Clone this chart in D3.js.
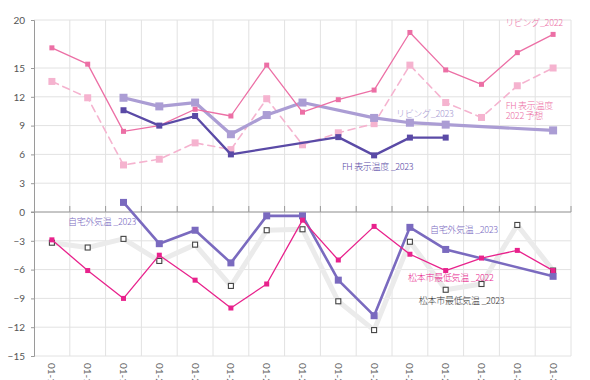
<!DOCTYPE html>
<html><head><meta charset="utf-8">
<script src="https://cdn.jsdelivr.net/npm/d3@7"></script>
<style>
html,body{margin:0;padding:0;background:#fff;}
svg{display:block;font-family:"Noto Sans CJK JP","Noto Sans",sans-serif;}
</style></head>
<body><svg id="c" width="590" height="380"></svg>
<script>
const categories = ["01-17","01-18","01-19","01-20","01-21","01-22","01-23","01-24","01-25","01-26","01-27","01-28","01-29","01-30","01-31"];
const yTicks = [-15,-12,-9,-6,-3,0,3,6,9,12,15,20];

const living2022   = [17.1,15.4,8.4,9.0,10.7,10.0,15.3,10.4,11.7,12.7,18.7,14.8,13.3,16.6,18.5];
const fh2022forecast = [13.6,11.9,4.9,5.5,7.2,6.5,11.8,7.0,8.25,9.2,15.3,11.4,9.85,13.15,15.0];
const living2023   = [null,null,11.9,11.0,11.4,8.1,10.1,11.4,null,9.8,9.3,9.1,null,null,8.5];
const fh2023       = [null,null,10.6,9.0,10.0,6.0,null,null,7.8,5.9,7.75,7.75,null,null,null];
const outdoor2023  = [null,null,1.0,-3.3,-1.9,-5.3,-0.4,-0.4,-7.1,-10.8,-1.6,-3.9,null,null,-6.7];
const matsumoto2022 = [-2.9,-6.1,-9.0,-4.5,-7.1,-10.0,-7.5,-0.85,-5.0,-1.5,-4.4,-6.1,-4.8,-4.0,-6.1];
const matsumoto2023 = [-3.2,-3.7,-2.8,-5.1,-3.4,-7.7,-1.9,-1.8,-9.3,-12.3,-3.1,-8.1,-7.5,-1.35,-6.1];

// label anchors in data terms: [category position (index units), value]
const labels = [
  {t:"リビング_2022", i:13.16, v:19.37, c:"#ec6fa5"},
  {t:"FH 表示温度", i:13.18, v:10.78, c:"#ec6fa5"},
  {t:"2022 予想", i:13.18, v:9.72, c:"#ec6fa5"},
  {t:"リビング_2023", i:10.11, v:9.89, c:"#a89ad2"},
  {t:"FH 表示温度 _2023", i:8.6, v:4.36, c:"#5a4aa6"},
  {t:"自宅外気温 _2023", i:0.95, v:-1.38, c:"#7a6abf"},
  {t:"自宅外気温 _2023", i:11.06, v:-2.21, c:"#7a6abf"},
  {t:"松本市最低気温 _2022", i:10.45, v:-7.22, c:"#e8228c"},
  {t:"松本市最低気温 _2023", i:10.75, v:-9.61, c:"#333333"}
];

const W=590,H=380, L=34, R=571, T=20, B=356;
const svg = d3.select("#c");
const x = d3.scaleBand().domain(categories).range([L,R]).paddingInner(0).paddingOuter(0);
const xi = d3.scaleLinear().domain([0,categories.length]).range([L,R]);
const y = d3.scaleLinear().domain([-15,20]).range([B,T]);
const cx = c => x(c)+x.bandwidth()/2;

// horizontal grid
svg.append("g").selectAll("line").data(yTicks).join("line")
  .attr("x1",L).attr("x2",R).attr("y1",d=>y(d)).attr("y2",d=>y(d))
  .attr("stroke","#e2e2e2").attr("stroke-width",1);
// vertical grid at band edges
const edges = categories.map(c=>x(c)+x.bandwidth());
svg.append("g").selectAll("line").data(edges).join("line")
  .attr("x1",d=>d).attr("x2",d=>d).attr("y1",T).attr("y2",B)
  .attr("stroke","#e2e2e2").attr("stroke-width",1);

// left axis
const ya = svg.append("g").attr("transform",`translate(${L},0)`)
  .call(d3.axisLeft(y).tickValues(yTicks).tickSize(3).tickPadding(6).tickFormat(d3.format("d")));
ya.select(".domain").attr("stroke","#9a9a9a");
ya.selectAll(".tick line").attr("stroke","#9a9a9a");
ya.selectAll("text").attr("fill","#555").attr("font-size",10).attr("font-family","Lato, 'Noto Sans', sans-serif");

// zero axis with upward ticks
const za = svg.append("g").attr("transform",`translate(0,${y(0)})`);
za.append("line").attr("x1",L-3).attr("x2",R).attr("y1",0).attr("y2",0).attr("stroke","#9a9a9a");
za.selectAll("line.tk").data(edges).join("line").attr("class","tk")
  .attr("x1",d=>d).attr("x2",d=>d).attr("y1",0).attr("y2",-6).attr("stroke","#9a9a9a");

// x labels
svg.append("g").selectAll("text").data(categories).join("text")
  .attr("transform",d=>`translate(${cx(d)},${B+7}) rotate(90)`)
  .attr("dy","0.35em").attr("text-anchor","start")
  .attr("font-size",10).attr("fill","#666").attr("font-family","Lato, 'Noto Sans', sans-serif")
  .text(d=>d);

function series(vals, o){
  const pts = categories.map((c,i)=>({c, v:vals[i]})).filter(d=>d.v!==null);
  const line = d3.line().x(d=>cx(d.c)).y(d=>y(d.v));
  const g = svg.append("g");
  g.append("path").datum(pts).attr("d",line).attr("fill","none")
    .attr("stroke",o.stroke).attr("stroke-width",o.w)
    .attr("stroke-dasharray",o.dash||null).attr("stroke-linejoin","round").attr("stroke-linecap","round");
  const s=o.ms;
  g.selectAll("rect").data(pts).join("rect")
    .attr("x",d=>cx(d.c)-s/2).attr("y",d=>y(d.v)-s/2).attr("width",s).attr("height",s)
    .attr("fill",o.mfill||o.stroke).attr("stroke",o.mstroke||"none").attr("stroke-width",o.msw||0);
}

series(matsumoto2023,{stroke:"#ebebeb",w:5,ms:5,mfill:"#fff",mstroke:"#444",msw:1.1});
series(fh2022forecast,{stroke:"#f5b3cf",w:1.6,dash:"7,5",ms:7});
series(living2023,{stroke:"#ab9dd4",w:3.2,ms:8});
series(living2022,{stroke:"#ec6fa5",w:1.3,ms:5});
series(fh2023,{stroke:"#5a4aa6",w:2.3,ms:6});
series(outdoor2023,{stroke:"#7a6abf",w:2.6,ms:7});
series(matsumoto2022,{stroke:"#e8228c",w:1.3,ms:5});

svg.append("g").selectAll("text").data(labels).join("text")
  .attr("x",d=>xi(d.i)).attr("y",d=>y(d.v))
  .attr("font-size",9).attr("font-weight",300).attr("letter-spacing","-0.3px")
  .attr("fill",d=>d.c).text(d=>d.t);
</script></body></html>
